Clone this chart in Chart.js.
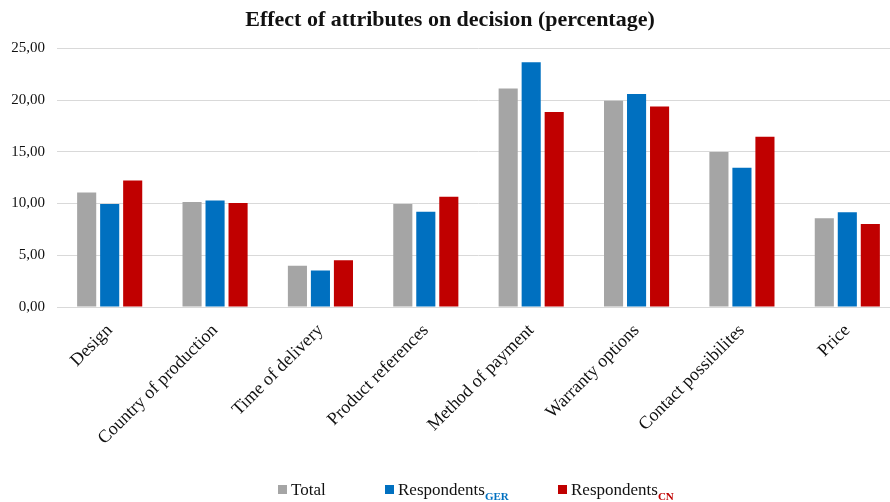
<!DOCTYPE html>
<html>
<head>
<meta charset="utf-8">
<script src="https://cdn.jsdelivr.net/npm/chart.js@4/dist/chart.umd.min.js"></script>
<style>
  html, body { margin: 0; padding: 0; background: #fff; overflow: hidden; }
  #wrap { position: relative; width: 890px; height: 502px; overflow: hidden; }
  #box { position: absolute; left: 0; top: 0; width: 906px; height: 502px; }
  #legend { position: absolute; top: 480px; left: 0; width: 890px; height: 22px;
            font-family: "Liberation Serif", "Times New Roman", serif; font-size: 17px; color: #111; }
  .item { position: absolute; top: 0; white-space: nowrap; }
  .sw { display: inline-block; width: 9px; height: 9px; margin-right: 4px; vertical-align: 1px; }
  sub { font-size: 11px; font-weight: bold; vertical-align: -5px; }
</style>
</head>
<body>
<div id="wrap">
  <div id="box"><canvas id="chart"></canvas></div>
  <div id="legend">
    <span class="item" style="left:278px"><span class="sw" style="background:#a5a5a5"></span>Total</span>
    <span class="item" style="left:385px"><span class="sw" style="background:#0070c0"></span>Respondents<sub style="color:#0070c0">GER</sub></span>
    <span class="item" style="left:558px"><span class="sw" style="background:#c00000"></span>Respondents<sub style="color:#c00000">CN</sub></span>
  </div>
</div>
<script>
const categories = [
    "Design",
    "Country of production",
    "Time of delivery",
    "Product references",
    "Method of payment",
    "Warranty options",
    "Contact possibilites",
    "Price",
];
const totalValues = [11.08, 10.14, 3.99, 9.95, 21.13, 19.93, 14.98, 8.57];
const gerValues = [9.95, 10.30, 3.54, 9.21, 23.67, 20.58, 13.46, 9.15];
const cnValues = [12.24, 10.05, 4.51, 10.66, 18.84, 19.39, 16.45, 8.02];
const seriesNames = ["Total", "Respondents GER", "Respondents CN"];
const seriesColors = ["#a5a5a5", "#0070c0", "#c00000"];

const serif = "'Liberation Serif', 'Times New Roman', serif";

const makeDataset = (name, values, color) => {
    return {
        label: name,
        data: values,
        backgroundColor: color,
        borderColor: color,
        borderWidth: 0,
        categoryPercentage: 0.655,
        barPercentage: 0.83,
    };
};

const datasets = [
    makeDataset(seriesNames[0], totalValues, seriesColors[0]),
    makeDataset(seriesNames[1], gerValues, seriesColors[1]),
    makeDataset(seriesNames[2], cnValues, seriesColors[2]),
];

const ctx = document.getElementById("chart").getContext("2d");
new Chart(ctx, {
    type: "bar",
    data: {
        labels: categories,
        datasets: datasets,
    },
    options: {
        responsive: true,
        maintainAspectRatio: false,
        animation: false,
        layout: { padding: { left: 0, right: 6, top: 7, bottom: 0 } },
        plugins: {
            legend: { display: false },
            tooltip: { enabled: false },
            title: {
                display: true,
                text: "Effect of attributes on decision (percentage)",
                color: "#111",
                font: { family: serif, size: 22, weight: "bold" },
                padding: { top: 0, bottom: 15 },
            },
        },
        scales: {
            x: {
                grid: { display: false },
                border: { display: true, color: "#d9d9d9" },
                ticks: {
                    color: "#111",
                    font: { family: serif, size: 18 },
                    minRotation: 45,
                    maxRotation: 45,
                    autoSkip: false,
                    padding: 5,
                },
                afterFit: (scale) => { scale.height = 195; },
            },
            y: {
                min: 0,
                max: 25,
                border: { display: false },
                grid: { color: "#d9d9d9", drawTicks: false },
                ticks: {
                    stepSize: 5,
                    color: "#111",
                    padding: 12,
                    font: { family: serif, size: 15 },
                    callback: (value) => value.toFixed(2).replace(".", ","),
                },
                afterFit: (scale) => { scale.width = 57; },
            },
        },
    },
});
</script>
</body>
</html>
